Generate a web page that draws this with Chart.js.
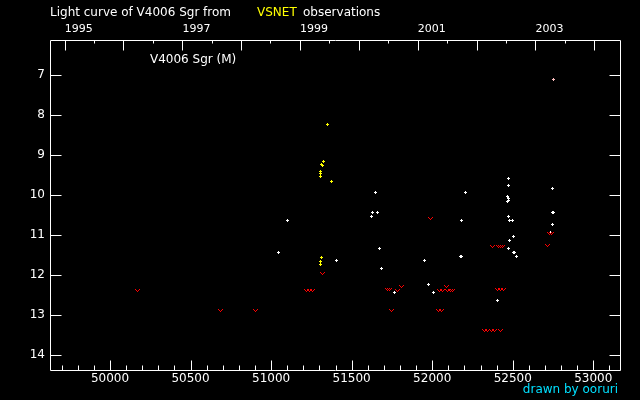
<!DOCTYPE html>
<html><head><meta charset="utf-8">
<script src="https://cdn.jsdelivr.net/npm/chart.js@4"></script>
<style>html,body{margin:0;padding:0;background:#000;}#wrap{width:640px;height:400px;position:relative;}</style>
</head><body><div id="wrap"><canvas id="c"></canvas></div>
<script>
// ---- data (JD-2400000, magnitude) ----
const visJD  = [51045,51100,51405,51647,51628,51659,51622,51672,51684,51765,51951,51976,52007,52174,52181,52181,52205,52404,52472,52472,52466,52472,52472,52466,52472,52479,52497,52503,52479,52472,52503,52510,52522,52746,52746,52752,52746,52733];
const visMag = [11.43,10.63,11.63,9.93,10.43,10.43,10.53,11.33,11.83,12.43,11.63,12.23,12.43,11.53,11.53,10.63,9.93,12.63,9.58,9.75,10.03,10.08,10.13,10.15,10.53,10.63,10.63,11.03,11.13,11.33,11.43,11.43,11.53,9.83,10.43,10.43,10.73,10.93];
const ccdJD  = [51349,51324,51312,51318,51305,51305,51305,51374,51312,51305,51305];
const ccdMag = [8.24,9.16,9.22,9.26,9.41,9.45,9.53,9.65,11.55,11.65,11.72];
const otherJD  = [52752];
const otherMag = [7.10];
const limJD  = [50170,50685,50902,51217,51238,51260,51318,51724,51736,51746,51783,51808,51988,52038,52057,52044,52067,52092,52111,52129,52088,52373,52410,52423,52435,52405,52424,52443,52322,52343,52365,52387,52421,52715,52727,52739];
const limMag = [12.37,12.87,12.87,12.38,12.38,12.38,11.96,12.36,12.36,12.88,12.38,12.28,10.58,12.88,12.88,12.38,12.38,12.38,12.38,12.38,12.28,11.28,11.28,11.28,11.28,12.36,12.36,12.36,13.38,13.38,13.38,13.38,13.38,11.25,10.95,10.95];
// ---- axis ticks ----
const magTicks  = [7,8,9,10,11,12,13,14];
const jdTicks   = [50000,50500,51000,51500,52000,52500,53000];
const yearTicks = [1995,1997,1999,2001,2003];
const yearMarks = [1995,1996,1997,1998,1999,2000,2001,2002,2003,2004];

const JD_MIN = 49627.6, JD_MAX = 53165.7, MAG_MIN = 6.1175, MAG_MAX = 14.3675;
const FONT = {family:'DejaVu Sans', size:11};
const FONT12 = {family:'DejaVu Sans', size:12};
function yearJD(y, m){ return Date.UTC(y, m||0, 1)/86400000 + 40587.5; }

function makeImg(rows, color){
  const c = document.createElement('canvas');
  c.width = rows[0].length; c.height = rows.length;
  const g = c.getContext('2d'); g.fillStyle = color;
  rows.forEach((r,yy)=>{ for(let xx=0;xx<r.length;xx++) if(r[xx]==='X') g.fillRect(xx,yy,1,1); });
  return c;
}
const PLUS = ['.X.','XXX','.X.'];
const VEE  = ['X...X','.X.X.','..X..'];
const plusW = makeImg(PLUS,'#ffffff');
const plusY = makeImg(PLUS,'#ffff00');
const plusP = makeImg(PLUS,'#ffc0c0');
const veeR  = makeImg(VEE,'#ff0000');

function pts(xs, ys){ return xs.map((x,i)=>({x:x, y:ys[i]})); }

const deco = {
  id:'deco',
  beforeDatasetsDraw(chart){ chart.ctx.imageSmoothingEnabled = false; },
  afterDraw(chart){
    const ctx = chart.ctx, ca = chart.chartArea;
    const xs = chart.scales.x, ys = chart.scales.y;
    const L = Math.round(ca.left)+0.5, R = Math.round(ca.right)+0.5, T = Math.round(ca.top)+0.5, B = Math.round(ca.bottom)+0.5;
    ctx.save();
    ctx.strokeStyle = '#fff'; ctx.lineWidth = 1;
    ctx.beginPath();
    ctx.moveTo(L,T); ctx.lineTo(R,T); ctx.lineTo(R,B); ctx.lineTo(L,B); ctx.closePath();
    magTicks.forEach(m=>{ const y = Math.round(ys.getPixelForValue(m))+0.5; ctx.moveTo(L,y); ctx.lineTo(L+11,y); ctx.moveTo(R,y); ctx.lineTo(R-11,y); });
    for(let v=Math.ceil(JD_MIN/100)*100; v<=JD_MAX; v+=100){
      const x = Math.round(xs.getPixelForValue(v))+0.5;
      const len = (v%500===0)?10:5;
      ctx.moveTo(x,B); ctx.lineTo(x,B-len);
    }
    yearMarks.forEach(yr=>{
      [[yearJD(yr,0),10],[yearJD(yr,6),3]].forEach(([jd,len])=>{
        if(jd<JD_MIN||jd>JD_MAX) return;
        const x = Math.round(xs.getPixelForValue(jd))+0.5;
        ctx.moveTo(x,T); ctx.lineTo(x,T+len);
      });
    });
    ctx.stroke();
    ctx.font = '12px "DejaVu Sans"';
    ctx.textBaseline = 'middle'; ctx.textAlign = 'left';
    ctx.fillStyle = '#fff';
    ctx.fillText('Light curve of V4006 Sgr from', 50, 12.5);
    ctx.fillStyle = '#ffff00';
    ctx.fillText('VSNET', 257, 12.5);
    ctx.fillStyle = '#fff';
    ctx.fillText('observations', 303, 12.5);
    ctx.fillText('V4006 Sgr (M)', 150, 60);
    ctx.fillStyle = '#00e0ff'; ctx.textAlign = 'right';
    ctx.fillText('drawn by ooruri', 618, 390);
    ctx.restore();
  }
};

new Chart(document.getElementById('c'), {
  type:'scatter',
  data:{ datasets:[
    {data:pts(limJD,limMag), pointStyle:veeR, pointRadius:3},
    {data:pts(visJD,visMag), pointStyle:plusW, pointRadius:2},
    {data:pts(ccdJD,ccdMag), pointStyle:plusY, pointRadius:2},
    {data:pts(otherJD,otherMag), pointStyle:plusP, pointRadius:2}
  ]},
  options:{
    responsive:true, maintainAspectRatio:false, animation:false,
    layout:{padding:{left:0,right:20,top:0,bottom:0}},
    plugins:{legend:{display:false}, tooltip:{enabled:false}},
    scales:{
      x:{type:'linear', position:'bottom', min:JD_MIN, max:JD_MAX,
         grid:{display:false, drawTicks:false}, border:{display:false},
         afterBuildTicks:s=>{ s.ticks = jdTicks.map(v=>({value:v})); },
         afterFit:s=>{ s.height = 30; },
         ticks:{color:'#fff', font:FONT12, padding:2, maxRotation:0, autoSkip:false, callback:v=>String(v)}},
      x2:{type:'linear', position:'top', min:JD_MIN, max:JD_MAX,
         grid:{display:false, drawTicks:false}, border:{display:false},
         afterBuildTicks:s=>{ s.ticks = yearTicks.map(y=>({value:yearJD(y,0)})); },
         afterFit:s=>{ s.height = 40; },
         ticks:{color:'#fff', font:FONT, padding:4, align:'start', maxRotation:0, autoSkip:false, callback:(v,i)=>String(yearTicks[i])}},
      y:{type:'linear', reverse:true, min:MAG_MIN, max:MAG_MAX,
         grid:{display:false, drawTicks:false}, border:{display:false},
         afterBuildTicks:s=>{ s.ticks = magTicks.map(v=>({value:v})); },
         afterFit:s=>{ s.width = 50; },
         ticks:{color:'#fff', font:FONT12, padding:5, callback:v=>String(v)}}
    }
  },
  plugins:[deco]
});
</script></body></html>
